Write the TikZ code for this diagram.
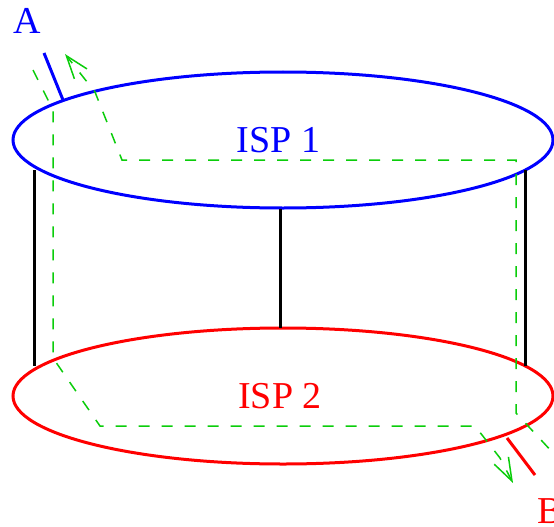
\documentclass[tikz,border=0pt]{standalone}
\usepackage{fontspec}
\setmainfont{Liberation Serif}
\usetikzlibrary{shapes.geometric,arrows.meta}
\definecolor{pathgreen}{RGB}{10,205,10}
\tikzset{
  isp/.style={ellipse, draw, line width=3pt, minimum width=540pt, minimum height=136pt, inner sep=0pt, font=\fontsize{38}{40}\selectfont},
  link/.style={line width=3pt, black},
  tick/.style={line width=3pt},
  route/.style={pathgreen, line width=1.5pt, dash pattern=on 11pt off 12pt,
     -{Straight Barb[length=23pt,width=16pt,line width=1.5pt]}},
  lbl/.style={font=\fontsize{38}{40}\selectfont, inner sep=0pt}
}
\begin{document}
\begin{tikzpicture}[x=1pt,y=-1pt]
\useasboundingbox (0,0) rectangle (554,527);
% ISPs
\node[isp, blue, text=blue] (isp1) at (283,140) {ISP 1\hspace*{9pt}};
\node[isp, red, text=red] (isp2) at (283,396) {ISP 2\hspace*{6pt}};
% links between ISPs
\coordinate (l1t) at (34,170);
\coordinate (l1b) at (34,366);
\coordinate (m1t) at (280,209);
\coordinate (m1b) at (280,328);
\coordinate (r1t) at (525.5,170);
\coordinate (r1b) at (525.5,366);
\draw[link] (l1t) -- (l1b);
\draw[link] (m1t) -- (m1b);
\draw[link] (r1t) -- (r1b);
% endpoints
\node[lbl, text=blue] (A) at (27.5,20.5) {A};
\node[lbl, text=red] (B) at (550,511.5) {B};
\coordinate (a0) at (63,100);
\coordinate (a1) at (44,53);
\coordinate (b0) at (507,438);
\coordinate (b1) at (535,475);
\draw[tick, blue] (a0) -- (a1);
\draw[tick, red] (b0) -- (b1);
% routes
\coordinate (p1s) at (580,482);
\coordinate (p1a) at (516,413);
\coordinate (p1b) at (516,160);
\coordinate (p1c) at (122,160);
\coordinate (p1d) at (95,92);
\coordinate (p1e) at (65,54);
\draw[route] (p1s) -- (p1a) -- (p1b) -- (p1c) -- (p1d) -- (p1e);
\coordinate (p2s) at (33,70);
\coordinate (p2a) at (53,110);
\coordinate (p2b) at (53,358);
\coordinate (p2c) at (100,426);
\coordinate (p2d) at (475,426);
\coordinate (p2e) at (500,458);
\coordinate (p2f) at (513,483);
\draw[route] (p2s) -- (p2a) -- (p2b) -- (p2c) -- (p2d) -- (p2e) -- (p2f);
\end{tikzpicture}
\end{document}
